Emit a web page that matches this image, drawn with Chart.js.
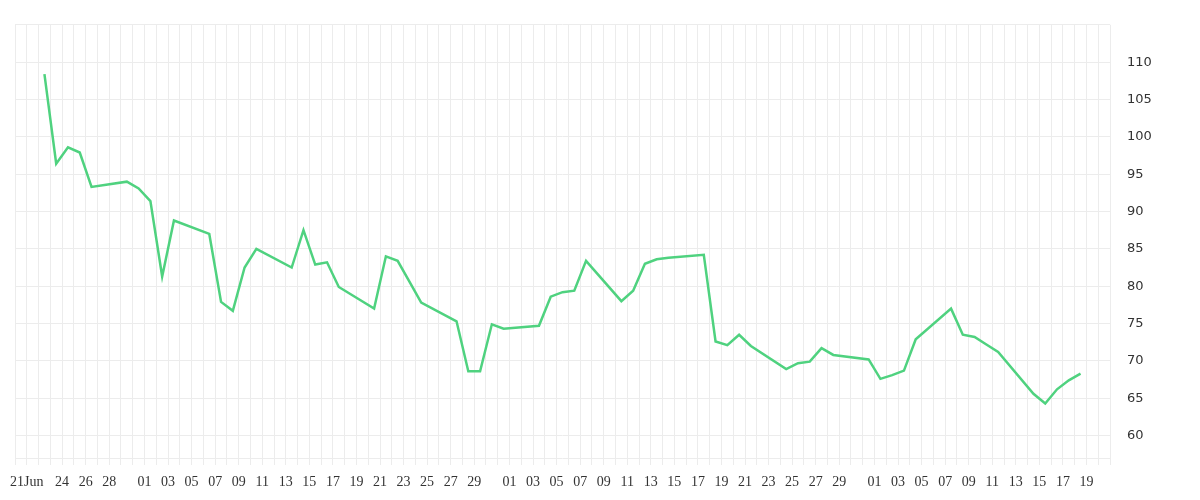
<!DOCTYPE html>
<html><head><meta charset="utf-8">
<script src="https://cdn.jsdelivr.net/npm/chart.js@4"></script>
<style>html,body{margin:0;padding:0;background:#fff}#w{width:1200px;height:500px}</style>
</head><body><div id="w"><canvas id="c"></canvas></div>
<script>
const dates = ["2020-06-22","2020-06-23","2020-06-24","2020-06-25","2020-06-26",
"2020-06-29","2020-06-30","2020-07-01","2020-07-02","2020-07-03",
"2020-07-06","2020-07-07","2020-07-08","2020-07-09","2020-07-10",
"2020-07-13","2020-07-14","2020-07-15","2020-07-16","2020-07-17",
"2020-07-20","2020-07-21","2020-07-22","2020-07-23","2020-07-24",
"2020-07-27","2020-07-28","2020-07-29","2020-07-30","2020-07-31",
"2020-08-03","2020-08-04","2020-08-05","2020-08-06","2020-08-07",
"2020-08-10","2020-08-11","2020-08-12","2020-08-13","2020-08-14",
"2020-08-17","2020-08-18","2020-08-19","2020-08-20","2020-08-21",
"2020-08-24","2020-08-25","2020-08-26","2020-08-27","2020-08-28",
"2020-08-31","2020-09-01","2020-09-02","2020-09-03","2020-09-04",
"2020-09-07","2020-09-08","2020-09-09","2020-09-10","2020-09-11",
"2020-09-14","2020-09-15","2020-09-16","2020-09-17","2020-09-18"];
const values = [108.4,96.4,98.6,97.9,93.3,
94.0,93.1,91.4,81.3,88.8,
87.0,77.9,76.7,82.5,85.0,
82.5,87.5,82.9,83.2,79.9,
77.0,84.0,83.4,80.6,77.8,
75.3,68.6,68.6,74.9,74.3,
74.7,78.6,79.2,79.4,83.4,
78.0,79.4,83.0,83.6,83.8,
84.2,72.6,72.1,73.5,72.0,
68.9,69.7,69.9,71.7,70.8,
70.2,67.6,68.1,68.7,72.9,
77.0,73.5,73.2,72.2,71.2,
65.6,64.3,66.2,67.4,68.3];
const yTicks = [60,65,70,75,80,85,90,95,100,105,110];
const monthNames = ["Jan","Feb","Mar","Apr","May","Jun","Jul","Aug","Sep","Oct","Nov","Dec"];
const DAY = 86400000;
const t0 = Date.UTC(2020,5,21);
const pts = dates.map((d,i)=>({x:(Date.parse(d+"T12:00:00Z")-t0)/DAY, y:values[i]}));
function lbl(v){
  if (v<0 || v>90 || v===1) return "";
  const d = new Date(t0 + v*DAY);
  const day = d.getUTCDate(), m = d.getUTCMonth();
  const last = new Date(Date.UTC(2020,m+1,0)).getUTCDate();
  if (v===0) return day+monthNames[m];
  if (day===last) return "";
  const want = (m===5) ? day%2===0 : day%2===1;
  return want ? String(day).padStart(2,"0") : "";
}
new Chart(document.getElementById("c"),{
  type:"line",
  data:{datasets:[{data:pts,borderColor:"#4fd27f",borderWidth:2.5,pointRadius:0,tension:0,fill:false}]},
  options:{
    responsive:true,maintainAspectRatio:false,animation:false,
    layout:{padding:{left:15,top:0,right:0,bottom:0}},
    plugins:{legend:{display:false},tooltip:{enabled:false}},
    scales:{
      x:{type:"linear",min:-1,max:92,
        grid:{color:"#ececec",tickLength:7},border:{display:false},
        afterFit:s=>{s.height=42;},
        ticks:{stepSize:1,autoSkip:false,maxRotation:0,padding:9,color:"#333",
          font:{family:"Liberation Serif",size:14},callback:v=>lbl(v)}},
      y:{position:"right",min:57,max:115,
        grid:{color:"#ececec",drawTicks:false},border:{display:false},
        afterFit:s=>{s.width=90;},
        afterBuildTicks:s=>{s.ticks=[57,...yTicks,115].map(v=>({value:v}));},
        ticks:{padding:17,color:"#333",font:{family:"DejaVu Sans",size:13},
          callback:v=>yTicks.includes(v)?String(v):""}}
    }
  }
});
</script></body></html>
